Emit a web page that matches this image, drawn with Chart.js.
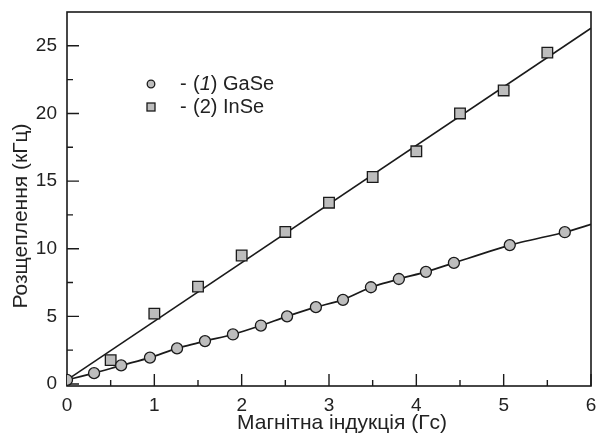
<!DOCTYPE html>
<html lang="uk">
  <head>
    <meta charset="UTF-8" />
    <title>Розщеплення від магнітної індукції</title>
    <script src="https://cdn.jsdelivr.net/npm/chart.js"></script>
    <style>
      html, body { margin: 0; padding: 0; background: #fff; }
    </style>
  </head>
  <body>
    <canvas id="grafico" width="596" height="434"></canvas>

    <script>
      // (1) GaSe - кружечки
      const gaseX = [0, 0.31, 0.62, 0.95, 1.26, 1.58, 1.9, 2.22, 2.52, 2.85, 3.16, 3.48, 3.8, 4.11, 4.43, 5.07, 5.7];
      const gaseY = [0.3, 0.8, 1.37, 1.95, 2.63, 3.17, 3.66, 4.32, 5.0, 5.68, 6.22, 7.15, 7.76, 8.29, 8.95, 10.27, 11.22];

      // (2) InSe - квадратики
      const inseX = [0.5, 1, 1.5, 2, 2.5, 3, 3.5, 4, 4.5, 5, 5.5];
      const inseY = [1.76, 5.2, 7.2, 9.5, 11.24, 13.4, 15.3, 17.2, 20.0, 21.7, 24.5];

      // лінії апроксимації
      const fitX = [0, 6];
      const fitInSe = [0.3, 26.3];
      const gaseTail = [6, 11.8];   // кінець кривої GaSe біля правої рамки

      const xTicks = [0, 1, 2, 3, 4, 5, 6];
      const xMinor = [0.5, 1.5, 2.5, 3.5, 4.5, 5.5];
      const yTicks = [0, 5, 10, 15, 20, 25];
      const yMinor = [2.5, 7.5, 12.5, 17.5, 22.5];

      const FONT = 'Arial, "Liberation Sans", sans-serif';
      const ink = '#1a1a1a';
      const markerFill = '#bdbdbd';

      const toPts = (xs, ys) => xs.map((x, i) => ({ x: x, y: ys[i] }));

      // рамка та внутрішні штрихи
      const framePlugin = {
        id: 'frame',
        beforeDatasetsDraw(chart) {
          const { ctx, chartArea: a, scales } = chart;
          ctx.save();
          ctx.strokeStyle = ink;
          ctx.lineWidth = 1.6;
          ctx.strokeRect(a.left, a.top, a.right - a.left, a.bottom - a.top);
          ctx.lineWidth = 1.4;
          ctx.beginPath();
          xTicks.forEach(v => { const p = scales.x.getPixelForValue(v); ctx.moveTo(p, a.bottom); ctx.lineTo(p, a.bottom - 12); });
          xMinor.forEach(v => { const p = scales.x.getPixelForValue(v); ctx.moveTo(p, a.bottom); ctx.lineTo(p, a.bottom - 6); });
          yTicks.forEach(v => { const p = scales.y.getPixelForValue(v); ctx.moveTo(a.left, p); ctx.lineTo(a.left + 12, p); });
          yMinor.forEach(v => { const p = scales.y.getPixelForValue(v); ctx.moveTo(a.left, p); ctx.lineTo(a.left + 6, p); });
          ctx.stroke();
          ctx.restore();
        }
      };

      // підписи осей та легенда
      const labelsPlugin = {
        id: 'labels',
        afterDraw(chart) {
          const { ctx } = chart;
          ctx.save();
          ctx.fillStyle = '#222';
          ctx.font = '21px ' + FONT;
          ctx.textBaseline = 'middle';
          ctx.textAlign = 'center';
          ctx.fillText('Магнітна індукція (Гс)', 342, 423);

          ctx.translate(21, 216);
          ctx.rotate(-Math.PI / 2);
          ctx.fillText('Розщеплення (кГц)', 0, 0);
          ctx.restore();

          // легенда
          ctx.save();
          ctx.fillStyle = markerFill;
          ctx.strokeStyle = ink;
          ctx.lineWidth = 1.3;
          ctx.beginPath();
          ctx.arc(151, 84, 3.8, 0, Math.PI * 2);
          ctx.fill();
          ctx.stroke();
          ctx.fillRect(147, 103, 8, 8);
          ctx.strokeRect(147, 103, 8, 8);

          ctx.fillStyle = '#222';
          ctx.textBaseline = 'middle';
          ctx.textAlign = 'left';
          const rows = [['1', 'GaSe', 84], ['2', 'InSe', 107]];
          rows.forEach(([n, name, y], i) => {
            let x = 180;
            ctx.font = '20px ' + FONT;
            ctx.fillText('-', x, y);
            x = 193;
            ctx.fillText('(', x, y);
            x += ctx.measureText('(').width;
            ctx.font = (i === 0 ? 'italic ' : '') + '20px ' + FONT;
            ctx.fillText(n, x, y);
            x += ctx.measureText(n).width;
            ctx.font = '20px ' + FONT;
            ctx.fillText(') ' + name, x, y);
          });
          ctx.restore();
        }
      };

      new Chart(document.getElementById('grafico').getContext('2d'), {
        type: 'scatter',
        data: {
          datasets: [
            {
              label: '(1) GaSe',
              data: toPts(gaseX, gaseY),
              pointStyle: 'circle',
              pointRadius: 5.5,
              backgroundColor: markerFill,
              borderColor: ink,
              borderWidth: 1.3,
              order: 1
            },
            {
              label: '(2) InSe',
              data: toPts(inseX, inseY),
              pointStyle: 'rect',
              pointRadius: 7.5,
              backgroundColor: markerFill,
              borderColor: ink,
              borderWidth: 1.3,
              order: 2
            },
            {
              label: 'InSe fit',
              data: toPts(fitX, fitInSe),
              showLine: true,
              pointRadius: 0,
              borderColor: ink,
              borderWidth: 1.7,
              order: 3
            },
            {
              label: 'GaSe fit',
              data: toPts(gaseX, gaseY).concat([{ x: gaseTail[0], y: gaseTail[1] }]),
              showLine: true,
              pointRadius: 0,
              borderColor: ink,
              borderWidth: 1.7,
              tension: 0.2,
              order: 4
            }
          ]
        },
        options: {
          responsive: false,
          animation: false,
          layout: { autoPadding: false, padding: { top: 12, right: 0, left: 0, bottom: 0 } },
          plugins: {
            legend: { display: false },
            tooltip: { enabled: false }
          },
          scales: {
            x: {
              type: 'linear',
              min: 0,
              max: 6,
              afterBuildTicks: s => { s.ticks = xTicks.map(v => ({ value: v })); },
              afterFit: s => { s.height = 48; s.paddingLeft = 0; s.paddingRight = 5; },
              grid: { display: false, drawTicks: false },
              border: { display: false },
              ticks: { padding: 8, color: '#222', font: { family: FONT, size: 19 } }
            },
            y: {
              type: 'linear',
              min: -0.15,
              max: 27.5,
              afterBuildTicks: s => { s.ticks = yTicks.map(v => ({ value: v })); },
              afterFit: s => { s.width = 67; s.paddingTop = 0; s.paddingBottom = 0; },
              grid: { display: false, drawTicks: false },
              border: { display: false },
              ticks: { padding: 10, color: '#222', font: { family: FONT, size: 19 } }
            }
          }
        },
        plugins: [framePlugin, labelsPlugin]
      });
    </script>
  </body>
</html>
